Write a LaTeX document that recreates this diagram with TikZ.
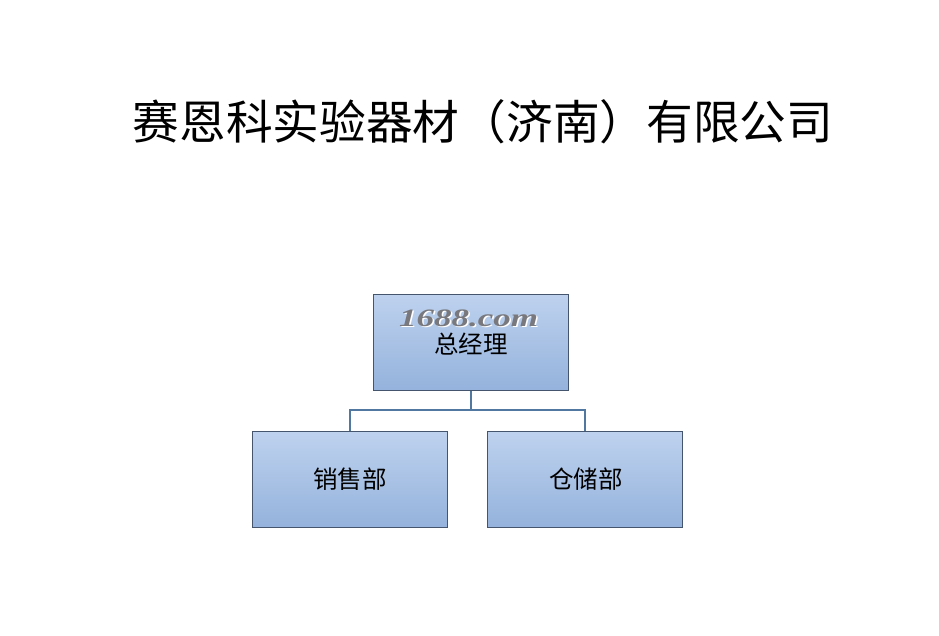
\documentclass[tikz,border=0pt]{standalone}
\usepackage{fontspec}
\newfontfamily\cjk{Noto Sans CJK SC}
\newfontfamily\wmfont{Liberation Serif}
\definecolor{boxtop}{RGB}{190,210,238}
\definecolor{boxbot}{RGB}{148,178,220}
\definecolor{boxline}{RGB}{70,85,110}
\definecolor{linkcol}{RGB}{80,120,160}
\definecolor{wmgray}{RGB}{120,120,125}
\begin{document}
\begin{tikzpicture}[x=1pt,y=-1pt,
  orgbox/.style={draw=boxline, line width=0.9pt, top color=boxtop, bottom color=boxbot,
    minimum width=195pt, minimum height=96pt, inner sep=0pt},
  boxtext/.style={font=\cjk\fontsize{24.5}{26}\selectfont, inner sep=0pt},
  wmtext/.style={font=\wmfont\bfseries\itshape\fontsize{25}{27}\selectfont, inner sep=0pt},
  link/.style={draw=linkcol, line width=1.8pt}]
\useasboundingbox (0,0) rectangle (939,635);
\fill[white] (0,0) rectangle (939,635);
\node[font=\cjk\fontsize{46.7}{50}\selectfont, inner sep=0pt] (title) at (483,122) {赛恩科实验器材（济南）有限公司};
\node[orgbox] (gm) at (471,342.5) {};
\node[orgbox] (sales) at (350,479.5) {};
\node[orgbox] (store) at (585,479.5) {};
\node[boxtext] (gmtext) at (471,344) {总经理};
\node[boxtext] (salestext) at (350,479) {销售部};
\node[boxtext] (storetext) at (586,479) {仓储部};
\node[wmtext, text=white] (wmshadow) at (470,319.5) {\scalebox{1.4}[1]{1688.com}};
\node[wmtext, text=wmgray] (wm) at (468.5,318) {\scalebox{1.4}[1]{1688.com}};
\coordinate (mid) at (471,410);
\draw[link] (gm.south) -- (mid);
\draw[link] (mid) -| (sales.north);
\draw[link] (mid) -| (store.north);
\end{tikzpicture}
\end{document}
